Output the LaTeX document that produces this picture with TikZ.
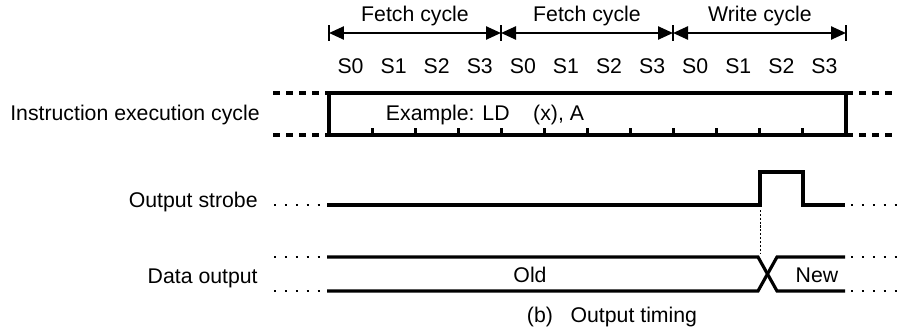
\documentclass[tikz,border=0pt]{standalone}
\usepackage{fontspec}
\setmainfont{Liberation Sans}
\usetikzlibrary{arrows.meta,positioning}
\tikzset{
    %Define standard arrow tip
    >={Triangle[length=0.3cm,width=0.26cm]},
    %Define style for labels
    lbl/.style={
           font=\fontsize{12.1}{14}\selectfont,
           inner sep=0pt},
    % Define line styles
    sig/.style={
           line width=1.8pt,
           line join=miter},
    ext/.style={
           line width=1.8pt,
           dash pattern=on 3.7pt off 3.7pt},
    dots/.style={
           line width=1.2pt,
           dash pattern=on 1.2pt off 5pt},
    cyc/.style={
           <->,
           line width=1.4pt}
}

\begin{document}
\begin{tikzpicture}[x=0.02cm,y=-0.02cm]
\useasboundingbox (0,0) rectangle (897,328);

 %cycle brackets
\coordinate (c0) at (329,33);
\coordinate (c1) at (501,33);
\coordinate (c2) at (673,33);
\coordinate (c3) at (846,33);
\foreach \b in {c0,c1,c2,c3}
    \draw[line width=1.4pt] (\b) ++(0,-8) -- ++(0,16);
\draw[cyc] (c0) -- (c1);
\draw[cyc] (c1) -- (c2);
\draw[cyc] (c2) -- (c3);
\node[lbl](fetchA) at (415,16){Fetch cycle};
\node[lbl](fetchB) at (587,16){Fetch cycle};
\node[lbl](write) at (760,16){Write cycle};

 %states
\foreach \c in {0,1,2}
  \foreach \s in {0,...,3}
    \node[lbl](s\c\s) at ({329+43.08*(4*\c+\s+0.5)},66){S\s};

 %instruction execution cycle
\node[lbl, anchor=east](iec) at (260,115){Instruction execution cycle};
\draw[sig] (329,93) rectangle (846,135);
\foreach \k in {1,...,11}
    \draw[sig] ({329+43.08*\k},128) -- ({329+43.08*\k},135);
\draw[ext] (273,93) -- (329,93);
\draw[ext] (273,135) -- (329,135);
\draw[ext] (846,93) -- (897,93);
\draw[ext] (846,135) -- (897,135);
\node[lbl](example) at (485,115){Example: LD\ \ \ \ (x), A};

 %output strobe
\node[lbl, anchor=east](strobe) at (258,202){Output strobe};
\draw[dots] (274,205) -- (326,205);
\draw[sig] (327,205) -- (760,205) -- (760,172) -- (803,172) -- (803,205) -- (845,205);
\draw[dots] (851,205) -- (897,205);
\draw[line width=1pt, dash pattern=on 1.2pt off 1pt] (760.5,210) -- (760.5,253);

 %data output
\node[lbl, anchor=east](dout) at (258,278){Data output};
\draw[dots] (274,257) -- (326,257);
\draw[dots] (274,291) -- (326,291);
\draw[sig] (327,257) -- (758,257) -- (777,291) -- (845,291);
\draw[sig] (327,291) -- (758,291) -- (777,257) -- (845,257);
\draw[dots] (851,257) -- (897,257);
\draw[dots] (851,291) -- (897,291);
\node[lbl](old) at (530,275){Old};
\node[lbl](new) at (817,275){New};

\node[lbl](cap) at (612,317){(b)\ \ \ Output timing};

\end{tikzpicture}
\end{document}
